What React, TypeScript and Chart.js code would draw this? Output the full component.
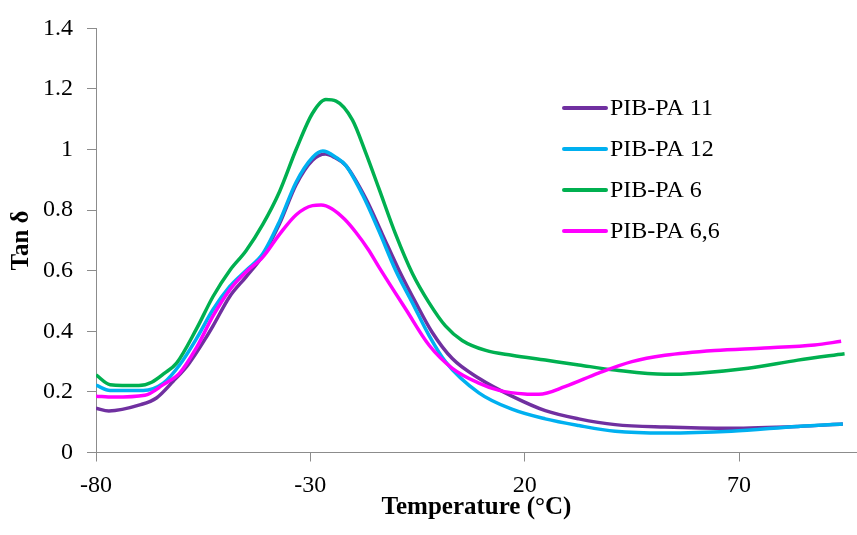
import React, { useEffect, useRef } from "react";
import { Chart, registerables } from "chart.js";

Chart.register(...registerables);

const seriesLabels = ["PIB-PA 11", "PIB-PA 12", "PIB-PA 6", "PIB-PA 6,6"];
const seriesColors = ["#7030A0", "#00B0F0", "#00B050", "#FF00FF"];
const xTicks = [-80, -30, 20, 70];

const pa11T = [-80, -77, -69.8, -65.9, -62, -58.5, -54.3, -52.7, -48.8, -45, -41.1, -37.2, -33.3, -29.5, -26.5, -24.5, -21.7, -17.1, -13.2, -9.3, -5.4, -1.6, 3.1, 9.3, 17, 24.8, 32.6, 41.1, 52.7, 68.2, 83.7, 94.2];
const pa11V = [0.146, 0.137, 0.157, 0.18, 0.235, 0.29, 0.38, 0.418, 0.515, 0.58, 0.65, 0.755, 0.885, 0.965, 0.985, 0.975, 0.947, 0.839, 0.72, 0.601, 0.494, 0.397, 0.31, 0.245, 0.186, 0.138, 0.111, 0.092, 0.084, 0.08, 0.086, 0.094];

const pa12T = [-80, -76.7, -69, -64.3, -60.5, -56.6, -52.7, -48.8, -45, -41.1, -37.2, -33.3, -29.5, -27.1, -24, -21.7, -17.8, -14, -10.1, -6.2, -2.3, 1.5, 9.3, 17, 24.8, 32.6, 41.1, 52.7, 68.2, 83.7, 94.2];
const pa12V = [0.222, 0.205, 0.205, 0.229, 0.289, 0.375, 0.472, 0.548, 0.601, 0.656, 0.763, 0.893, 0.974, 0.995, 0.974, 0.947, 0.85, 0.731, 0.601, 0.494, 0.386, 0.3, 0.197, 0.143, 0.111, 0.089, 0.07, 0.064, 0.07, 0.086, 0.094];

const pa6T = [-80, -76.7, -70, -67, -64, -61.2, -56.6, -52.7, -48.8, -45, -41.1, -37.2, -33.3, -29.5, -26.4, -24, -20.2, -17.1, -14, -10.1, -6.2, -2.3, 1.5, 5.4, 10.9, 17, 24.8, 32.6, 41.1, 52.7, 60.5, 72.1, 83.7, 94.6];
const pa6V = [0.256, 0.224, 0.221, 0.232, 0.262, 0.295, 0.407, 0.515, 0.601, 0.666, 0.753, 0.861, 1.001, 1.12, 1.165, 1.16, 1.098, 0.99, 0.871, 0.72, 0.591, 0.494, 0.418, 0.37, 0.337, 0.321, 0.305, 0.289, 0.272, 0.258, 0.262, 0.278, 0.305, 0.326];

const pa66T = [-80, -76, -68.6, -64.3, -60.5, -56.6, -52.7, -48.8, -45, -41.1, -37.2, -33.3, -29.5, -27.5, -25, -22, -19.4, -16.5, -14, -7.7, -2.3, 3.1, 9.3, 14, 20, 23.3, 29.5, 37.2, 45, 52.7, 64.3, 75.9, 87.6, 93.8];
const pa66V = [0.186, 0.183, 0.189, 0.224, 0.262, 0.345, 0.451, 0.537, 0.596, 0.645, 0.72, 0.785, 0.815, 0.817, 0.805, 0.77, 0.727, 0.67, 0.612, 0.472, 0.354, 0.278, 0.229, 0.205, 0.193, 0.192, 0.218, 0.262, 0.3, 0.321, 0.337, 0.345, 0.355, 0.367];

const seriesT = [pa11T, pa12T, pa6T, pa66T];
const seriesV = [pa11V, pa12V, pa6V, pa66V];

const AXIS_GRAY = "#8c8c8c";
const FONT = "'Liberation Serif', 'Times New Roman', serif";

const legendPlugin = {
  id: "insideLegend",
  afterDraw(chart: any) {
    const ctx = chart.ctx;
    ctx.save();
    chart.data.datasets.forEach((ds: any, i: number) => {
      const y = 108 + i * 41;
      ctx.strokeStyle = ds.borderColor;
      ctx.lineWidth = 4;
      ctx.lineCap = "round";
      ctx.beginPath();
      ctx.moveTo(564, y);
      ctx.lineTo(606, y);
      ctx.stroke();
      ctx.fillStyle = "#000";
      ctx.font = `24px ${FONT}`;
      ctx.textBaseline = "middle";
      ctx.textAlign = "left";
      ctx.fillText(ds.label, 610, y + 1);
    });
    ctx.restore();
  },
};

export default function App() {
  const ref = useRef<HTMLCanvasElement | null>(null);
  useEffect(() => {
    document.body.style.margin = "0";
    if (!ref.current) return;
    const chart = new Chart(ref.current, {
      type: "line",
      data: {
        datasets: seriesLabels.map((label, i) => ({
          label,
          data: seriesT[i].map((t, j) => ({ x: t, y: seriesV[i][j] })),
          borderColor: seriesColors[i],
          backgroundColor: seriesColors[i],
          borderWidth: 3.5,
          pointRadius: 0,
          tension: 0.4,
          cubicInterpolationMode: "monotone" as const,
          fill: false,
          order: 4 - i,
        })),
      },
      options: {
        responsive: false,
        animation: false,
        layout: { padding: { top: 20, right: 0, left: 0, bottom: 0 } },
        plugins: { legend: { display: false }, tooltip: { enabled: false } },
        scales: {
          x: {
            type: "linear",
            min: -80,
            max: 97.5,
            afterBuildTicks: (scale: any) => {
              scale.ticks = xTicks.map((v) => ({ value: v }));
            },
            afterFit: (scale: any) => {
              scale.height = 82.5;
            },
            grid: { drawOnChartArea: false, drawTicks: true, tickLength: 9, color: AXIS_GRAY },
            border: { display: true, color: AXIS_GRAY, width: 1 },
            ticks: { color: "#000", font: { family: FONT, size: 24 }, padding: 10, maxRotation: 0, autoSkip: false },
            title: {
              display: true,
              text: "Temperature (°C)",
              color: "#000",
              font: { family: FONT, size: 25, weight: "bold" },
              padding: { top: 0, bottom: 12 },
            },
          },
          y: {
            min: 0,
            max: 1.4,
            afterFit: (scale: any) => {
              scale.width = 96;
            },
            grid: { drawOnChartArea: false, drawTicks: true, tickLength: 9, color: AXIS_GRAY },
            border: { display: true, color: AXIS_GRAY, width: 1 },
            ticks: {
              stepSize: 0.2,
              color: "#000",
              font: { family: FONT, size: 24 },
              padding: 14,
              callback: (v: any) => String(Math.round(Number(v) * 10) / 10),
            },
            title: {
              display: true,
              text: "Tan δ",
              color: "#000",
              font: { family: FONT, size: 25, weight: "bold" },
              padding: { top: 7, bottom: 0 },
            },
          },
        },
      },
      plugins: [legendPlugin],
    });
    return () => chart.destroy();
  }, []);
  return <canvas ref={ref} width={857} height={535} style={{ display: "block" }} />;
}
